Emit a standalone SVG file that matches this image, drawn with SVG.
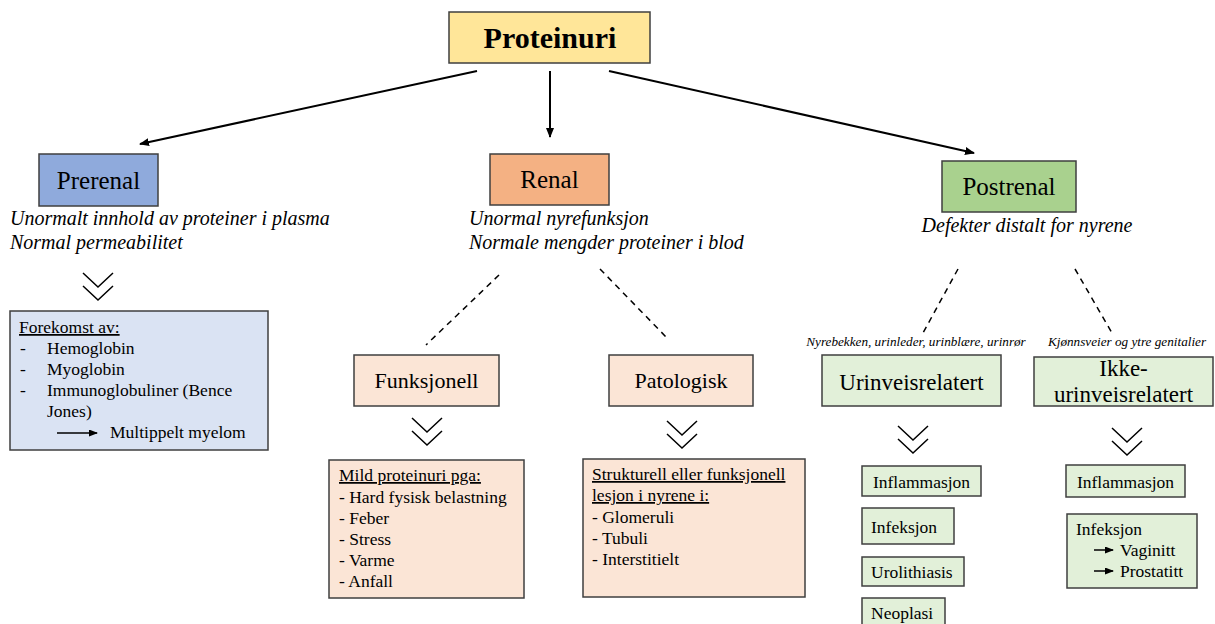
<svg xmlns="http://www.w3.org/2000/svg" width="1215" height="624" viewBox="0 0 1215 624">
<style>
text{font-family:"Liberation Serif","Times New Roman",serif;fill:#000}
.box{stroke:#3f3f3f;stroke-width:1.5}
.hdr{font-size:25px;text-anchor:middle}
.sub{font-size:22px;text-anchor:middle}
.it{font-style:italic;font-size:20px}
.sm{font-size:17.5px}
.lbl{font-style:italic;font-size:13.2px;text-anchor:middle}
.arr{stroke:#000;stroke-width:2;fill:none}
.dash{stroke:#000;stroke-width:1.5;stroke-dasharray:6 5;fill:none}
.chev{stroke:#000;stroke-width:1.5;fill:none}
.u{text-decoration:underline}
</style>
<defs>
<marker id="ah" markerWidth="10" markerHeight="8" refX="9" refY="4" orient="auto" markerUnits="userSpaceOnUse">
<path d="M0,0 L10,4 L0,8 Z" fill="#000"/>
</marker>
<marker id="ahs" markerWidth="9" markerHeight="7" refX="8" refY="3.5" orient="auto" markerUnits="userSpaceOnUse">
<path d="M0,0 L9,3.5 L0,7 Z" fill="#000"/>
</marker>
<g id="chevron">
<polyline class="chev" points="0,0 15,14 30,0"/>
<polyline class="chev" points="0,13 15,27 30,13"/>
</g>
</defs>
<rect width="1215" height="624" fill="#fff"/>

<g id="connectors">
<line class="arr" x1="477" y1="71" x2="140" y2="144" marker-end="url(#ah)"/>
<line class="arr" x1="550" y1="71" x2="550" y2="137" marker-end="url(#ah)"/>
<line class="arr" x1="609" y1="71" x2="974" y2="153" marker-end="url(#ah)"/>
<line class="dash" x1="499" y1="275" x2="426" y2="345"/>
<line class="dash" x1="600" y1="269" x2="669" y2="340"/>
<line class="dash" x1="958" y1="269" x2="923" y2="333"/>
<line class="dash" x1="1075" y1="269" x2="1112" y2="333"/>
<use href="#chevron" x="83" y="273"/>
<use href="#chevron" x="412" y="418"/>
<use href="#chevron" x="667" y="421"/>
<use href="#chevron" x="898" y="426"/>
<use href="#chevron" x="1112" y="428"/>
</g>

<g id="proteinuri">
<rect class="box" x="449" y="12" width="201" height="51" fill="#FFE699"/>
<text x="550" y="48" font-size="30" font-weight="bold" text-anchor="middle">Proteinuri</text>
</g>

<g id="prerenal">
<rect class="box" x="39" y="154" width="119" height="52" fill="#8FAADC"/>
<text class="hdr" x="98.5" y="189">Prerenal</text>
<text class="it" x="10" y="225">Unormalt innhold av proteiner i plasma</text>
<text class="it" x="10" y="249">Normal permeabilitet</text>
</g>

<g id="renal">
<rect class="box" x="490" y="154" width="119" height="51" fill="#F4B183"/>
<text class="hdr" x="549.5" y="188">Renal</text>
<text class="it" x="469" y="225">Unormal nyrefunksjon</text>
<text class="it" x="469" y="249">Normale mengder proteiner i blod</text>
</g>

<g id="postrenal">
<rect class="box" x="942" y="161" width="134" height="51" fill="#A9D18E"/>
<text class="hdr" x="1009" y="195">Postrenal</text>
<text class="it" x="1027" y="232" text-anchor="middle">Defekter distalt for nyrene</text>
</g>

<g id="prerenal-forekomst">
<rect class="box" x="10" y="311" width="258" height="139" fill="#DAE3F3"/>
<text class="sm" x="19" y="333"><tspan class="u">Forekomst av:</tspan></text>
<text class="sm" x="20" y="354">-</text><text class="sm" x="47" y="354">Hemoglobin</text>
<text class="sm" x="20" y="375">-</text><text class="sm" x="47" y="375">Myoglobin</text>
<text class="sm" x="20" y="396">-</text><text class="sm" x="47" y="396">Immunoglobuliner (Bence</text>
<text class="sm" x="47" y="417">Jones)</text>
<line x1="57" y1="433" x2="97" y2="433" stroke="#000" stroke-width="1.5" marker-end="url(#ahs)"/>
<text class="sm" x="110" y="438">Multippelt myelom</text>
</g>

<g id="funksjonell">
<rect class="box" x="354" y="355" width="145" height="51" fill="#FBE5D6"/>
<text class="sub" x="426.5" y="388">Funksjonell</text>
</g>

<g id="patologisk">
<rect class="box" x="609" y="355" width="144" height="51" fill="#FBE5D6"/>
<text class="sub" x="681" y="388">Patologisk</text>
</g>

<g id="mild">
<rect class="box" x="329" y="460" width="195" height="138" fill="#FBE5D6"/>
<text class="sm" x="339" y="481"><tspan class="u">Mild proteinuri pga:</tspan></text>
<text class="sm" x="339" y="503">- Hard fysisk belastning</text>
<text class="sm" x="339" y="524">- Feber</text>
<text class="sm" x="339" y="545">- Stress</text>
<text class="sm" x="339" y="566">- Varme</text>
<text class="sm" x="339" y="587">- Anfall</text>
</g>

<g id="strukturell">
<rect class="box" x="583" y="459" width="222" height="138" fill="#FBE5D6"/>
<text class="sm" x="592" y="480"><tspan class="u">Strukturell eller funksjonell</tspan></text>
<text class="sm" x="592" y="501"><tspan class="u">lesjon i nyrene i:</tspan></text>
<text class="sm" x="592" y="523">- Glomeruli</text>
<text class="sm" x="592" y="544">- Tubuli</text>
<text class="sm" x="592" y="565">- Interstitielt</text>
</g>

<g id="urinveisrelatert">
<text class="lbl" x="916" y="346">Nyrebekken, urinleder, urinblære, urinrør</text>
<rect class="box" x="822" y="355" width="179" height="51" fill="#E2F0D9"/>
<text x="911.5" y="390" font-size="23" text-anchor="middle">Urinveisrelatert</text>
</g>

<g id="ikke-urinveisrelatert">
<text class="lbl" x="1127" y="346">Kjønnsveier og ytre genitalier</text>
<rect class="box" x="1034" y="357" width="179" height="49" fill="#E2F0D9"/>
<text x="1123.5" y="376" font-size="23" text-anchor="middle">Ikke-</text>
<text x="1123.5" y="402" font-size="23" text-anchor="middle">urinveisrelatert</text>
</g>

<g id="u-inflammasjon">
<rect class="box" x="862" y="466" width="119" height="30" fill="#E2F0D9"/>
<text class="sm" x="921.5" y="488" text-anchor="middle">Inflammasjon</text>
</g>
<g id="u-infeksjon">
<rect class="box" x="862" y="508" width="92" height="36" fill="#E2F0D9"/>
<text class="sm" x="871" y="533">Infeksjon</text>
</g>
<g id="u-urolithiasis">
<rect class="box" x="862" y="557" width="102" height="29" fill="#E2F0D9"/>
<text class="sm" x="871" y="578">Urolithiasis</text>
</g>
<g id="u-neoplasi">
<rect class="box" x="862" y="598" width="83" height="32" fill="#E2F0D9"/>
<text class="sm" x="871" y="619">Neoplasi</text>
</g>

<g id="i-inflammasjon">
<rect class="box" x="1066" y="465" width="119" height="32" fill="#E2F0D9"/>
<text class="sm" x="1125.5" y="488" text-anchor="middle">Inflammasjon</text>
</g>
<g id="i-infeksjon">
<rect class="box" x="1067" y="514" width="130" height="74" fill="#E2F0D9"/>
<text class="sm" x="1076" y="535">Infeksjon</text>
<line x1="1094" y1="550" x2="1113" y2="550" stroke="#000" stroke-width="1.5" marker-end="url(#ahs)"/>
<text class="sm" x="1120" y="556">Vaginitt</text>
<line x1="1094" y1="571" x2="1113" y2="571" stroke="#000" stroke-width="1.5" marker-end="url(#ahs)"/>
<text class="sm" x="1120" y="577">Prostatitt</text>
</g>
</svg>
